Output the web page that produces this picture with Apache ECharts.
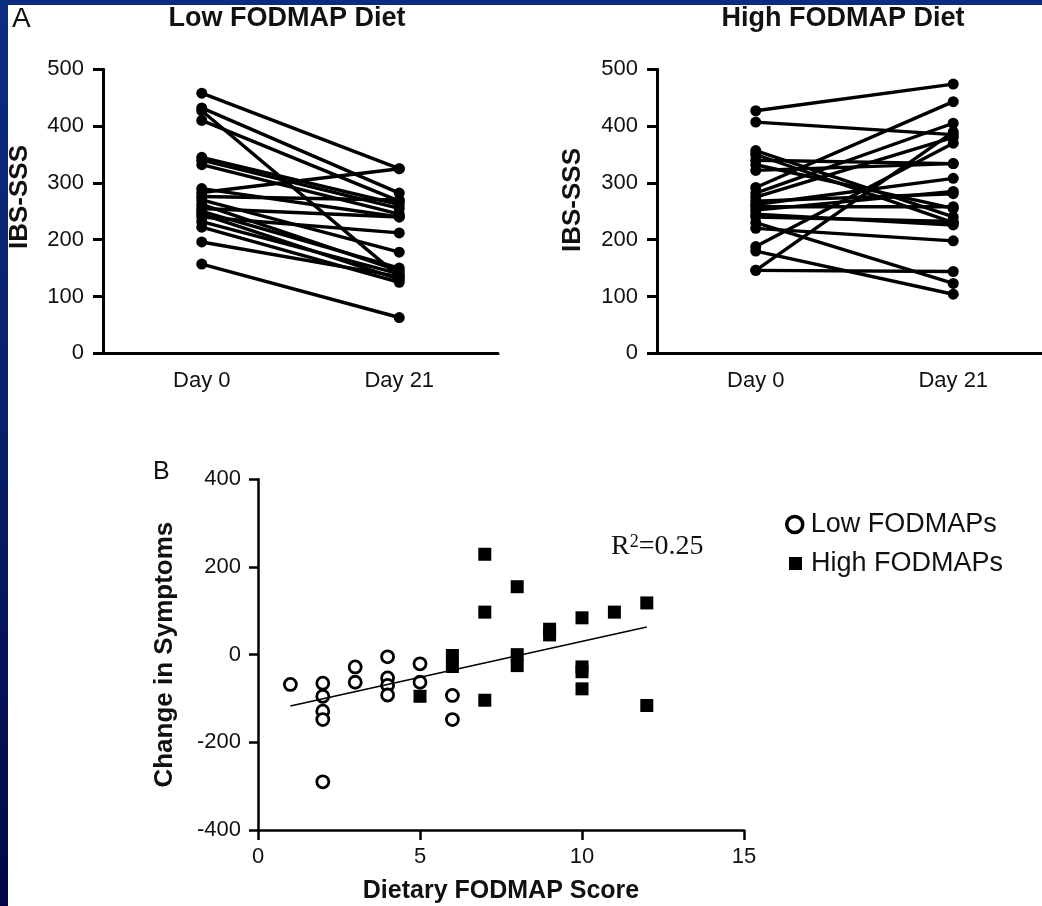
<!DOCTYPE html>
<html>
<head>
<meta charset="utf-8">
<script src="https://cdn.jsdelivr.net/npm/echarts@6/dist/echarts.min.js"></script>
<style>
html,body{margin:0;padding:0;width:1042px;height:906px;overflow:hidden;
  background:linear-gradient(to bottom,#0c2c82 0%,#08206c 45%,#020744 100%);}
#sheet{position:absolute;left:8px;top:5px;right:0;bottom:0;background:#fff;}
#chart{position:absolute;left:0;top:0;width:1042px;height:906px;}
</style>
</head>
<body>
<div id="sheet"></div>
<div id="chart"></div>
<script>
// Panel A: IBS-SSS per subject at the start and end of each diet
const days = ['Day 0', 'Day 21'];
const ibsTicks = [0, 500, 100];

const lowDay0  = [458, 432, 427, 410, 345, 340, 332, 290, 283, 276, 270, 262, 255, 250, 245, 240, 232, 222, 196, 157];
const lowDay21 = [325, 282, 135, 268, 262, 255, 245, 240, 325, 270, 178, 145, 240, 150, 130, 212, 140, 125, 135, 63];

const highDay0  = [427, 407, 357, 350, 340, 332, 322, 292, 282, 275, 268, 262, 258, 252, 245, 240, 230, 220, 188, 180, 146, 146];
const highDay21 = [474, 385, 240, 230, 334, 255, 334, 443, 405, 380, 281, 308, 258, 285, 226, 232, 123, 198, 370, 104, 144, 390];

// Panel B: change in symptoms against dietary FODMAP score
const scoreTicks = [0, 15, 5];
const changeTicks = [-400, 400, 200];

const lowFodmapPoints = [
  [1, -68], [2, -65], [2, -95], [2, -129], [2, -148], [2, -290],
  [3, -28], [3, -63], [4, -5], [4, -53], [4, -70], [4, -92],
  [5, -21], [5, -63], [6, -93], [6, -148]
];
const highFodmapPoints = [
  [5, -95], [6, -2], [6, -27], [7, 229], [7, 97], [7, -104],
  [8, 155], [8, 0], [8, -25], [9, 58], [9, 45], [10, 84],
  [10, -28], [10, -39], [10, -78], [11, 97], [12, 118], [12, -116]
];
const fitLine = [[1, -117], [12, 63]];

const SANS = '"Liberation Sans", Arial, Helvetica, sans-serif';
const SERIF = '"Liberation Serif", "Times New Roman", serif';

function dayAxis(gridIndex) {
  return {
    type: 'category', gridIndex, data: days, boundaryGap: true,
    axisLine: { onZero: false, lineStyle: { color: '#000', width: 3 } },
    axisTick: { alignWithLabel: true, length: 12, lineStyle: { color: '#000', width: 3 } },
    axisLabel: { color: '#111', fontFamily: SANS, fontSize: 22, margin: 17 },
    splitLine: { show: false }
  };
}
function ibsAxis(gridIndex) {
  return {
    type: 'value', gridIndex, min: ibsTicks[0], max: ibsTicks[1], interval: ibsTicks[2],
    axisLine: { show: true, onZero: false, lineStyle: { color: '#000', width: 3 } },
    axisTick: { show: true, length: 10, lineStyle: { color: '#000', width: 3 } },
    axisLabel: { color: '#111', fontFamily: SANS, fontSize: 22, margin: 19 },
    splitLine: { show: false }
  };
}
function subjectLines(d0, d21, idx) {
  return d0.map((v, i) => ({
    type: 'line', xAxisIndex: idx, yAxisIndex: idx,
    data: [v, d21[i]],
    symbol: 'circle', symbolSize: 11, showSymbol: true,
    lineStyle: { color: '#000', width: 3.4 },
    itemStyle: { color: '#000' },
    silent: true, animation: false
  }));
}

const chart = echarts.init(document.getElementById('chart'), null, { renderer: 'canvas' });

chart.setOption({
  animation: false,
  backgroundColor: 'transparent',
  grid: [
    { left: 103, top: 69.3, width: 395, height: 284, outerBoundsMode: 'none' },
    { left: 657, top: 69.3, width: 395, height: 284, outerBoundsMode: 'none' },
    { left: 258, top: 479.3, width: 486, height: 350.7, outerBoundsMode: 'none' }
  ],
  xAxis: [
    dayAxis(0),
    dayAxis(1),
    {
      type: 'value', gridIndex: 2, min: scoreTicks[0], max: scoreTicks[1], interval: scoreTicks[2],
      name: 'Dietary FODMAP Score', nameLocation: 'middle', nameGap: 49,
      nameTextStyle: { color: '#111', fontFamily: SANS, fontSize: 25, fontWeight: 'bold' },
      axisLine: { onZero: false, lineStyle: { color: '#000', width: 2.5 } },
      axisTick: { length: 10, lineStyle: { color: '#000', width: 2.5 } },
      axisLabel: { color: '#111', fontFamily: SANS, fontSize: 22, margin: 16 },
      splitLine: { show: false }
    }
  ],
  yAxis: [
    ibsAxis(0),
    ibsAxis(1),
    {
      type: 'value', gridIndex: 2, min: changeTicks[0], max: changeTicks[1], interval: changeTicks[2],
      name: 'Change in Symptoms', nameLocation: 'middle', nameGap: 80, nameRotate: 90,
      nameTextStyle: { color: '#111', fontFamily: SANS, fontSize: 26, fontWeight: 'bold' },
      axisLine: { show: true, onZero: false, lineStyle: { color: '#000', width: 2.5 } },
      axisTick: { show: true, length: 9, lineStyle: { color: '#000', width: 2.5 } },
      axisLabel: { color: '#111', fontFamily: SANS, fontSize: 22, margin: 17 },
      splitLine: { show: false }
    }
  ],
  legend: [
    {
      orient: 'vertical', left: 785, top: 511, padding: 0,
      itemWidth: 16, itemHeight: 16, selectedMode: false,
      textStyle: { color: '#111', fontFamily: SANS, fontSize: 27, padding: [0, 0, 0, 3] },
      data: [{ name: 'Low FODMAPs', icon: 'circle',
               itemStyle: { color: '#fff', borderColor: '#000', borderWidth: 3.5 } }]
    },
    {
      orient: 'vertical', left: 789, top: 550, padding: 0,
      itemWidth: 13, itemHeight: 13, selectedMode: false,
      textStyle: { color: '#111', fontFamily: SANS, fontSize: 27, padding: [0, 0, 0, 4] },
      data: [{ name: 'High FODMAPs', icon: 'rect', itemStyle: { color: '#000' } }]
    }
  ],
  series: [
    ...subjectLines(lowDay0, lowDay21, 0),
    ...subjectLines(highDay0, highDay21, 1),
    {
      name: 'High FODMAPs', type: 'scatter', xAxisIndex: 2, yAxisIndex: 2,
      data: highFodmapPoints, symbol: 'rect', symbolSize: 13,
      itemStyle: { color: '#000', opacity: 1 }, z: 3
    },
    {
      name: 'Low FODMAPs', type: 'scatter', xAxisIndex: 2, yAxisIndex: 2,
      data: lowFodmapPoints, symbol: 'circle', symbolSize: 12,
      itemStyle: { color: '#fff', borderColor: '#000', borderWidth: 2.8, opacity: 1 }, z: 4
    },
    {
      type: 'line', xAxisIndex: 2, yAxisIndex: 2, data: fitLine,
      showSymbol: false, symbol: 'none',
      lineStyle: { color: '#000', width: 1.6 }, z: 5, silent: true
    }
  ],
  graphic: [
    { type: 'text', x: 12, y: 19.5,
      style: { text: 'A', fill: '#111', font: '28px ' + SANS, align: 'left', verticalAlign: 'middle', textAlign: 'left', textVerticalAlign: 'middle' } },
    { type: 'text', x: 287, y: 18.5,
      style: { text: 'Low FODMAP Diet', fill: '#111', font: 'bold 27px ' + SANS, align: 'center', verticalAlign: 'middle', textAlign: 'center', textVerticalAlign: 'middle' } },
    { type: 'text', x: 843, y: 18.5,
      style: { text: 'High FODMAP Diet', fill: '#111', font: 'bold 27px ' + SANS, align: 'center', verticalAlign: 'middle', textAlign: 'center', textVerticalAlign: 'middle' } },
    { type: 'text', x: 20, y: 197, rotation: Math.PI / 2,
      style: { text: 'IBS-SSS', fill: '#111', font: 'bold 26px ' + SANS, align: 'center', verticalAlign: 'middle', textAlign: 'center', textVerticalAlign: 'middle' } },
    { type: 'text', x: 573, y: 200, rotation: Math.PI / 2,
      style: { text: 'IBS-SSS', fill: '#111', font: 'bold 26px ' + SANS, align: 'center', verticalAlign: 'middle', textAlign: 'center', textVerticalAlign: 'middle' } },
    { type: 'text', x: 153, y: 472.5,
      style: { text: 'B', fill: '#111', font: '25px ' + SANS, align: 'left', verticalAlign: 'middle', textAlign: 'left', textVerticalAlign: 'middle' } },
    { type: 'text', x: 611, y: 547,
      style: {
        text: '{r|R}{s|2}{r|=0.25}', fill: '#111', align: 'left', verticalAlign: 'middle',
        textAlign: 'left', textVerticalAlign: 'middle',
        rich: {
          r: { fontFamily: SERIF, fontSize: 28, fill: '#111', color: '#111' },
          s: { fontFamily: SERIF, fontSize: 18, fill: '#111', color: '#111', verticalAlign: 'top' }
        }
      } }
  ]
});
</script>
</body>
</html>
